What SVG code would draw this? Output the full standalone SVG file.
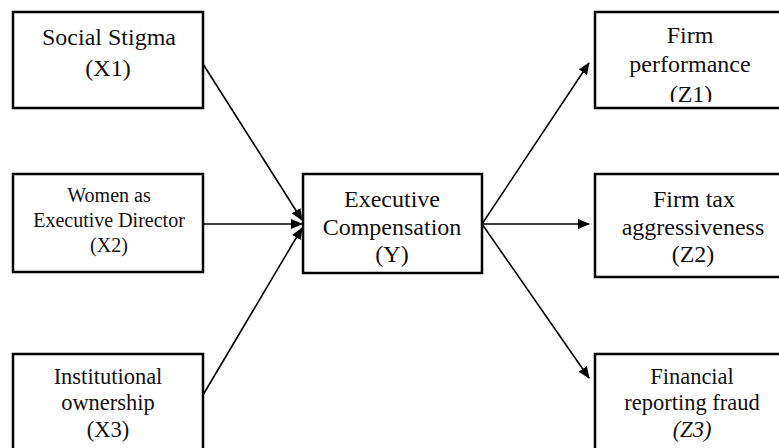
<svg xmlns="http://www.w3.org/2000/svg" width="779" height="448" viewBox="0 0 779 448">
<defs>
<marker id="ah" markerWidth="12" markerHeight="10" refX="11" refY="5" orient="auto" markerUnits="userSpaceOnUse">
<path d="M0,0 L12,5 L0,10 z" fill="#000"/>
</marker>
<clipPath id="cz1"><rect x="594" y="12" width="200" height="90"/></clipPath>
<style>
.box{fill:#fff;stroke:#000;stroke-width:2.5}
.t{font-family:"Liberation Serif","Times New Roman",serif;font-size:24px;fill:#111;text-anchor:middle}
.s{font-size:20px}
.m{font-size:22.5px}
.c line{stroke:#000;stroke-width:1.6;marker-end:url(#ah)}
</style>
</defs>
<rect width="779" height="448" fill="#fff"/>
<g class="c" id="connectors">
<line x1="203" y1="64" x2="302" y2="220"/>
<line x1="203" y1="224" x2="302" y2="224"/>
<line x1="203" y1="395" x2="302" y2="228"/>
<line x1="482" y1="224" x2="589" y2="63"/>
<line x1="482" y1="224" x2="589" y2="224"/>
<line x1="482" y1="224" x2="589" y2="378"/>
</g>
<g id="x1"><rect class="box" x="13" y="12" width="190" height="96"/>
<text class="t" x="109" y="45">Social Stigma</text><text class="t" x="108" y="76">(X1)</text></g>
<g id="x2"><rect class="box" x="13" y="174" width="190" height="98"/>
<text class="t s" x="109" y="202">Women as</text><text class="t s" x="109" y="227">Executive Director</text><text class="t s" x="109" y="252">(X2)</text></g>
<g id="x3"><rect class="box" x="13" y="354" width="190" height="110"/>
<text class="t m" x="108" y="384">Institutional</text><text class="t m" x="108" y="410">ownership</text><text class="t m" x="108" y="437">(X3)</text></g>
<g id="y"><rect class="box" x="303" y="174" width="179" height="99"/>
<text class="t" x="392" y="207">Executive</text><text class="t" x="392" y="235">Compensation</text><text class="t" x="392" y="262">(Y)</text></g>
<g id="z1"><rect class="box" x="595" y="12" width="200" height="96"/>
<text class="t" x="690" y="43">Firm</text><text class="t" x="690" y="72">performance</text><text class="t" x="691" y="102" clip-path="url(#cz1)">(Z1)</text></g>
<g id="z2"><rect class="box" x="595" y="174" width="200" height="103"/>
<text class="t" x="694" y="207">Firm tax</text><text class="t" x="693" y="235">aggressiveness</text><text class="t" x="693" y="262">(Z2)</text></g>
<g id="z3"><rect class="box" x="595" y="354" width="200" height="110"/>
<text class="t m" x="692" y="384">Financial</text><text class="t m" x="692" y="410">reporting fraud</text><text class="t m" x="692" y="437" font-style="italic">(Z3)</text></g>
</svg>
